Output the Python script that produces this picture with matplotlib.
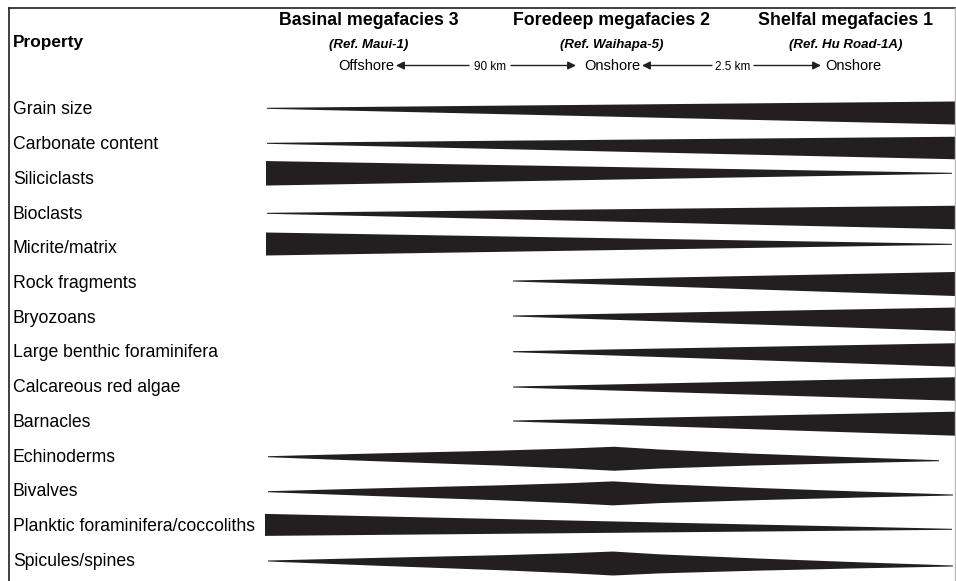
import matplotlib
matplotlib.use("Agg")
import matplotlib.pyplot as plt
from matplotlib.patches import Polygon

plt.rcParams['font.family'] = ['Liberation Sans', 'DejaVu Sans']

# property rows, top to bottom
properties = ["Grain size", "Carbonate content", "Siliciclasts", "Bioclasts",
              "Micrite/matrix", "Rock fragments", "Bryozoans",
              "Large benthic foraminifera", "Calcareous red algae", "Barnacles",
              "Echinoderms", "Bivalves", "Planktic foraminifera/coccoliths",
              "Spicules/spines"]

facies_titles = ["Basinal megafacies 3", "Foredeep megafacies 2", "Shelfal megafacies 1"]
facies_refs = ["(Ref. Maui-1)", "(Ref. Waihapa-5)", "(Ref. Hu Road-1A)"]
facies_setting = ["Offshore", "Onshore", "Onshore"]
distances = ["90 km", "2.5 km"]

# abundance bars: x stations (px), bar thickness (px) at each station,
# and the centre line at the first and last station
profile_x = [
    [267, 955], [267, 955], [266, 952], [267, 955], [266, 952],
    [513, 955], [513, 955], [513, 955], [513, 955], [513, 955],
    [268, 380, 500, 570, 614, 660, 750, 850, 939],
    [268, 380, 500, 570, 613, 660, 760, 860, 953],
    [265, 952],
    [268, 380, 500, 570, 613, 660, 760, 860, 953],
]
profile_thick = [
    [1, 23], [1, 22.5], [24.5, 1], [1, 23.5], [23, 1],
    [1, 24], [1, 23.5], [1, 23.5], [1, 23.5], [1, 24],
    [1, 8, 15, 20, 24, 19, 12, 6, 1],
    [1, 8, 15, 20, 24, 19, 12, 6, 1],
    [22, 1],
    [1, 8, 15, 20, 24, 19, 12, 6, 1],
]
centre_start = [108.3, 143.3, 173.3, 213.3, 244.0, 281.0, 316.0, 351.7, 387.0, 421.0,
                456.7, 491.7, 524.9, 561.0]
centre_end = [113.0, 148.0, 173.3, 217.5, 244.3, 284.0, 319.3, 355.0, 389.0, 423.7,
              460.7, 495.0, 529.3, 566.0]

BAR_COLOR = '#231f20'


def bar_polygon(xs, thick, c0, c1):
    x0, x1 = xs[0], xs[-1]
    top = []
    bottom = []
    for x, t in zip(xs, thick):
        c = c0 + (c1 - c0) * (x - x0) / (x1 - x0)
        top.append((x, c - t / 2.0))
        bottom.append((x, c + t / 2.0))
    return top + bottom[::-1]


def main():
    fig = plt.figure(figsize=(9.56, 5.81), dpi=100)
    ax = fig.add_axes([0, 0, 1, 1])
    ax.set_xlim(0, 956)
    ax.set_ylim(581, 0)
    ax.axis('off')

    # frame
    ax.plot([9, 956], [8.3, 8.3], color='#231f20', lw=1.2)
    ax.plot([9.3, 9.3], [8, 581], color='#231f20', lw=1.2)
    ax.plot([955.3, 955.3], [8, 581], color='#bbbbbb', lw=1.0)

    # header
    ax.text(13, 43, "Property", fontsize=12.4, fontweight='bold', va='center', ha='left')
    col_x = [369, 612, 846]
    for x, title, ref in zip(col_x, facies_titles, facies_refs):
        ax.text(x, 20.5, title, fontsize=12.8, fontweight='bold', ha='center', va='center')
        ax.text(x, 45, ref, fontsize=9.5, fontweight='bold', style='italic',
                ha='center', va='center')
    setting_x = [366, 612, 853]
    for x, s in zip(setting_x, facies_setting):
        ax.text(x, 66.5, s, fontsize=10.5, ha='center', va='center')

    # distance arrows
    arrow_spans = [(396, 576), (642, 821)]
    label_x = [490, 733]
    for (xa, xb), lx, d in zip(arrow_spans, label_x, distances):
        for tip, tail in [(xa, lx - 21), (xb, lx + 21)]:
            ax.annotate('', xy=(tip, 65.5), xytext=(tail, 65.5),
                        arrowprops=dict(arrowstyle='-|>', color='#231f20', lw=1.0,
                                        mutation_scale=12, shrinkA=0, shrinkB=0))
        ax.text(lx, 66.5, d, fontsize=8.5, ha='center', va='center')

    # property rows
    for i, name in enumerate(properties):
        ax.text(13, 110 + 34.7 * i, name, fontsize=12.7, ha='left', va='center')
        poly = Polygon(bar_polygon(profile_x[i], profile_thick[i],
                                   centre_start[i], centre_end[i]),
                       closed=True, facecolor=BAR_COLOR, edgecolor='none')
        ax.add_patch(poly)

    fig.savefig('out.png', dpi=100)


if __name__ == '__main__':
    main()
